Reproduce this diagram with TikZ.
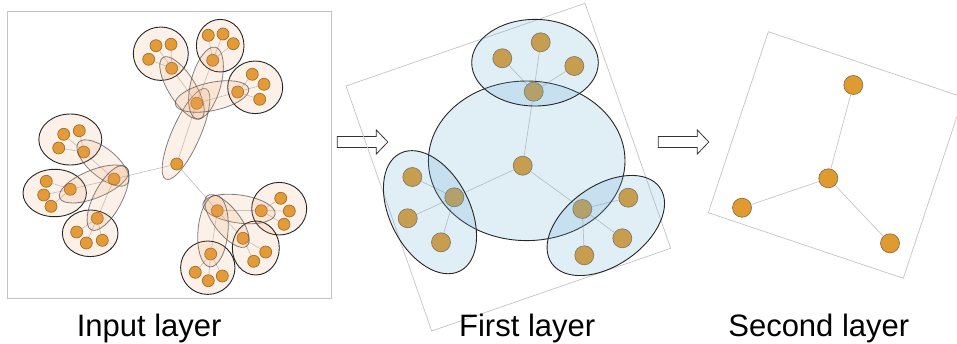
\documentclass[tikz,border=0pt]{standalone}
\usepackage{fontspec}
\setmainfont{Liberation Sans}
\usetikzlibrary{calc}
\definecolor{dotfill}{RGB}{224,155,48}
\definecolor{dotline}{RGB}{150,100,35}
\definecolor{peach}{RGB}{238,160,100}
\definecolor{paleblue}{RGB}{100,170,210}
\definecolor{panelgray}{RGB}{195,195,195}
\begin{document}
\begin{tikzpicture}[x=1pt,y=-1pt,
 indot/.style={circle,draw=dotline,fill=dotfill,line width=.7pt,inner sep=0pt,minimum size=12pt},
 fdot/.style={indot,minimum size=19pt,draw=dotline!60!gray},
 link/.style={draw=gray!45,line width=.7pt},
 grp/.style={fill=peach,fill opacity=.15,draw=black,draw opacity=.85,line width=.9pt},
 pairbox/.style={fill=peach,fill opacity=.15,draw=black!70,draw opacity=.7,line width=.8pt},
 blob/.style={fill=paleblue,fill opacity=.2,draw=black!85,line width=.9pt},
 panel/.style={draw=panelgray,line width=.7pt},
 stepar/.style={draw=black!80,fill=white,line width=.8pt},
 lbl/.style={anchor=base,font=\fontsize{31}{36}\selectfont}]
\useasboundingbox (0,0) rectangle (957,343);
\begin{scope}
\draw[panel] (7.5,11) rectangle (331.5,298.5);
\foreach \n/\x/\y in {in0/176.7/164,inT/196.7/103.3,inL/114/179,inB/217.3/210.7,
 inTa/171.7/68.3,inTa1/156/45.7,inTa2/171/44.3,inTa3/148.7/59.3,
 inTb/212.7/60.3,inTb1/208.3/35.3,inTb2/223/34,inTb3/233.3/43.7,
 inTc/237.7/92,inTc1/252.3/74.3,inTc2/264/84.3,inTc3/259.7/99.3,
 inLa/83.7/152,inLa1/63.7/134.3,inLa2/79.3/130.7,inLa3/58.7/148,
 inLb/70.3/189.3,inLb1/46.3/181.3,inLb2/43.7/195,inLb3/51/206.3,
 inLc/97.3/218.3,inLc1/76.7/232,inLc2/86.3/243,inLc3/102.3/240.3,
 inBa/261.3/210.7,inBa1/280.7/198.3,inBa2/289.3/211,inBa3/284/224.3,
 inBb/243/238.3,inBb1/265.7/252,inBb2/253.7/261.3,
 inBc/210.7/254,inBc1/195.3/272.3,inBc2/208.3/280.7,inBc3/222.3/276}
 \node[indot] (\n) at (\x,\y) {};
\foreach \a/\b in {in0/inT,in0/inL,in0/inB,inT/inTa,inT/inTb,inT/inTc,inL/inLa,inL/inLb,inL/inLc,
 inB/inBa,inB/inBb,inB/inBc,inTa/inTa1,inTa/inTa2,inTa/inTa3,inTb/inTb1,inTb/inTb2,inTb/inTb3,
 inTc/inTc1,inTc/inTc2,inTc/inTc3,inLa/inLa1,inLa/inLa2,inLa/inLa3,inLb/inLb1,inLb/inLb2,inLb/inLb3,
 inLc/inLc1,inLc/inLc2,inLc/inLc3,inBa/inBa1,inBa/inBa2,inBa/inBa3,inBb/inBb1,inBb/inBb2,
 inBc/inBc1,inBc/inBc2,inBc/inBc3}
 \draw[link] (\a) -- (\b);
\foreach \x/\y/\a/\b in {160.8/53.7/27.5/26.7,220.2/45.7/23.8/26.3,255.2/87.3/27.5/26.3,
 70.3/139.5/31.5/25.5,54.7/193/31.7/23.7,90.2/233.3/27.8/23.3,
 279.2/208.7/27.5/26.3,255.8/248/23.5/27,207.8/267.7/27.2/26.7}
 \draw[grp] (\x,\y) ellipse [x radius=\a,y radius=\b];
\foreach \x/\y/\a/\b/\r in {186/134/49.5/14/66,182/88/36/13.5/-58,206/83/37/15/75,212/96.5/37.5/14/12,
 103/163/32/14/-40,94/184/37/14/22,108/198/36/14/62,
 239/209/36.5/14/-8,227/221/32/13/-52,213/231/36/15/-95}
 \draw[pairbox,rotate around={\r:(\x,\y)}] (\x,\y) ellipse [x radius=\a,y radius=\b];
\node[lbl] (inlbl) at (149.2,336) {Input layer};
\end{scope}
\foreach \ax in {337.3,658.3}
 \draw[stepar] (\ax,136.5) -- ++(39,0) -- ++(0,-6.5) -- ++(11.5,12) -- ++(-11.5,12) -- ++(0,-6.5) -- ++(-39,0) -- cycle;
\begin{scope}
\draw[panel] (346,86) -- (585,3.3) -- (670.7,248.3) -- (431.7,331) -- cycle;
\foreach \n/\x/\y in {f0/522.7/165.7,fT/533.7/91.7,fT1/502.3/58.3,fT2/540.7/42.3,fT3/574.3/66,
 fL/454.3/197.3,fL1/412.3/177,fL2/407.7/218.3,fL3/441/242.3,
 fR/582.3/209,fR1/628.3/197.7,fR2/622.3/238.3,fR3/584.3/255.3}
 \node[fdot] (\n) at (\x,\y) {};
\foreach \a/\b in {f0/fT,f0/fL,f0/fR,fT/fT1,fT/fT2,fT/fT3,fL/fL1,fL/fL2,fL/fL3,fR/fR1,fR/fR2,fR/fR3}
 \draw[link] (\a) -- (\b);
\draw[blob] (526.7,160.8) ellipse [x radius=98.3,y radius=79.8];
\draw[blob] (535,62.7) ellipse [x radius=63.3,y radius=43.3];
\draw[blob,rotate around={-63:(430,212.2)}] (430,212.2) ellipse [x radius=66,y radius=40];
\draw[blob,rotate around={35:(605.8,225.5)}] (605.8,225.5) ellipse [x radius=66,y radius=40];
\node[lbl] (flbl) at (527.2,336) {First layer};
\end{scope}
\begin{scope}
\draw[panel] (768.3,31.7) -- (963.3,97.3) -- (903.3,278.3) -- (708.3,212.7) -- cycle;
\foreach \n/\x/\y in {s0/828.3/178.3,sT/853.3/85,sL/742/207.7,sR/890/243.3}
 \node[fdot] (\n) at (\x,\y) {};
\foreach \b in {sT,sL,sR}
 \draw[link] (s0) -- (\b);
\node[lbl] (slbl) at (818.8,336) {Second layer};
\end{scope}
\end{tikzpicture}
\end{document}
